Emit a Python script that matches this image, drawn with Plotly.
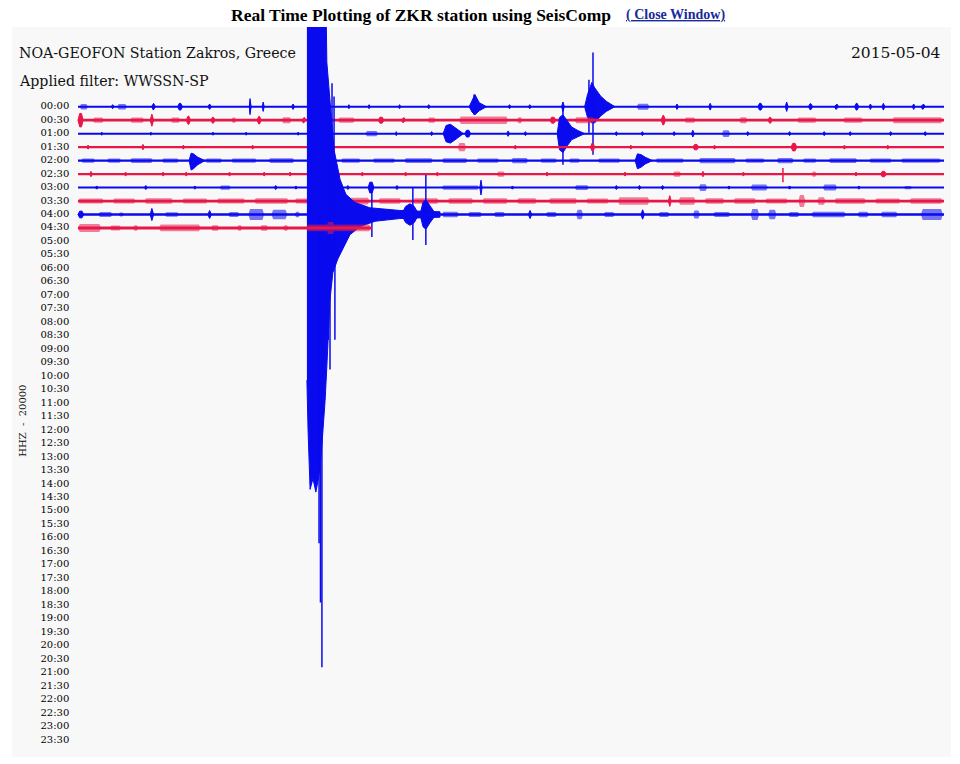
import plotly.graph_objects as go

# ---------------- labels ----------------
TIME_LABELS = ["00:00", "00:30", "01:00", "01:30", "02:00", "02:30", "03:00", "03:30",
               "04:00", "04:30", "05:00", "05:30", "06:00", "06:30", "07:00", "07:30",
               "08:00", "08:30", "09:00", "09:30", "10:00", "10:30", "11:00", "11:30",
               "12:00", "12:30", "13:00", "13:30", "14:00", "14:30", "15:00", "15:30",
               "16:00", "16:30", "17:00", "17:30", "18:00", "18:30", "19:00", "19:30",
               "20:00", "20:30", "21:00", "21:30", "22:00", "22:30", "23:00", "23:30"]

BLUE = "#0a0aee"
RED = "#e8174a"
BLUE_SOFT = "rgba(10,10,238,0.55)"
RED_SOFT = "rgba(232,23,74,0.55)"

# rows with data (index into TIME_LABELS), end minute of each trace, colour, line width
ROW_IDX = [0, 1, 2, 3, 4, 5, 6, 7, 8, 9]
ROW_END = [30, 30, 30, 30, 30, 30, 30, 30, 30, 10.18]
ROW_COLOR = [BLUE, RED, BLUE, RED, BLUE, RED, BLUE, RED, BLUE, RED]
ROW_SOFT = [BLUE_SOFT, RED_SOFT] * 5
ROW_WIDTH = [2.0, 2.8, 2.0, 2.2, 2.4, 2.3, 2.0, 2.8, 2.4, 2.8]

# noise bursts per row: (start minute, end minute, amplitude in row spacings)
bursts_0000 = [(0.05, 0.35, 0.2), (1.15, 1.25, 0.15), (1.35, 1.7, 0.2), (2.55, 2.68, 0.25),
               (3.45, 3.62, 0.25), (4.5, 4.62, 0.2), (5.93, 6.0, 0.45), (6.38, 6.45, 0.35),
               (7.4, 7.5, 0.2), (9.35, 9.42, 0.15), (10.05, 10.12, 0.15), (11.1, 11.18, 0.15),
               (12.1, 12.2, 0.15), (14.9, 15.0, 0.15), (15.6, 15.7, 0.15), (16.75, 16.85, 0.35),
               (19.35, 19.8, 0.22), (20.7, 20.8, 0.2), (21.85, 21.95, 0.25), (23.55, 23.72, 0.25),
               (24.5, 24.6, 0.35), (25.3, 25.45, 0.22), (26.2, 26.35, 0.2), (26.9, 27.05, 0.25),
               (27.4, 27.5, 0.2), (27.85, 27.95, 0.25), (28.9, 29.0, 0.2), (29.2, 29.35, 0.2)]
bursts_0030 = [(0.0, 0.18, 0.5), (0.5, 0.9, 0.2), (1.8, 2.3, 0.2), (2.5, 2.62, 0.45),
               (3.2, 3.55, 0.2), (3.75, 3.9, 0.3), (4.6, 4.75, 0.22), (5.3, 5.5, 0.2),
               (6.2, 6.35, 0.28), (7.05, 7.4, 0.22), (7.75, 7.9, 0.22), (9.0, 9.6, 0.2),
               (10.4, 10.6, 0.22), (11.2, 11.35, 0.2), (12.1, 12.4, 0.2), (13.2, 14.9, 0.28),
               (15.2, 15.4, 0.22), (16.35, 16.55, 0.22), (17.2, 17.9, 0.22), (20.2, 20.35, 0.35),
               (21.0, 21.4, 0.2), (22.9, 23.2, 0.22), (23.9, 24.05, 0.22), (24.9, 25.6, 0.2),
               (26.5, 27.2, 0.2), (28.2, 29.96, 0.22)]
bursts_0100 = [(0.8, 0.85, 0.12), (2.5, 2.55, 0.12), (4.65, 4.7, 0.12), (5.8, 5.85, 0.12),
               (7.6, 7.65, 0.12), (9.95, 10.4, 0.2), (11.0, 11.05, 0.15), (12.2, 12.3, 0.15),
               (13.4, 13.6, 0.25), (14.85, 14.95, 0.2), (15.45, 15.55, 0.15), (18.6, 18.7, 0.15),
               (19.5, 19.6, 0.15), (20.6, 20.7, 0.15), (21.25, 21.35, 0.25), (22.3, 22.6, 0.25),
               (23.15, 23.25, 0.15), (24.6, 24.7, 0.15), (25.8, 25.9, 0.15), (26.7, 26.8, 0.15),
               (28.1, 28.2, 0.15), (29.3, 29.4, 0.15)]
bursts_0130 = [(0.3, 0.4, 0.15), (2.2, 2.3, 0.2), (3.6, 3.7, 0.15), (6.0, 6.1, 0.15),
               (8.1, 8.2, 0.15), (13.15, 13.45, 0.3), (15.1, 15.2, 0.15), (17.75, 17.9, 0.3),
               (19.1, 19.2, 0.15), (21.3, 21.5, 0.2), (22.0, 22.1, 0.15), (24.7, 24.9, 0.28),
               (26.5, 26.6, 0.15), (28.0, 28.1, 0.15)]
bursts_0200 = [(0.1, 0.6, 0.16), (1.0, 1.5, 0.16), (1.8, 2.6, 0.18), (2.9, 3.5, 0.16),
               (4.4, 5.0, 0.16), (5.3, 6.2, 0.16), (6.6, 7.5, 0.18), (9.1, 9.8, 0.16),
               (10.2, 11.0, 0.16), (11.3, 12.3, 0.18), (12.6, 13.5, 0.18), (13.8, 14.6, 0.16),
               (15.0, 15.6, 0.2), (16.0, 16.6, 0.16), (17.0, 17.4, 0.16), (18.0, 18.8, 0.16),
               (20.0, 21.0, 0.16), (21.5, 22.8, 0.2), (23.1, 23.8, 0.16), (24.2, 24.8, 0.2),
               (25.1, 25.6, 0.16), (26.0, 27.0, 0.18), (27.4, 28.2, 0.16), (28.5, 29.9, 0.16)]
bursts_0230 = [(0.4, 0.5, 0.2), (1.6, 1.7, 0.15), (2.9, 3.0, 0.15), (3.7, 3.8, 0.15),
               (5.2, 5.3, 0.15), (6.4, 6.5, 0.15), (7.3, 7.4, 0.15), (9.8, 9.9, 0.15),
               (11.3, 11.4, 0.15), (12.4, 12.5, 0.15), (14.5, 14.8, 0.2), (16.2, 16.3, 0.15),
               (18.9, 19.0, 0.15), (20.6, 20.9, 0.2), (21.6, 21.7, 0.2), (23.0, 23.1, 0.15),
               (25.4, 25.6, 0.2), (26.9, 27.0, 0.15), (27.8, 28.0, 0.2)]
bursts_0300 = [(0.6, 0.7, 0.12), (2.3, 2.4, 0.15), (4.0, 4.1, 0.12), (4.9, 5.3, 0.16),
               (6.8, 6.9, 0.15), (7.5, 7.6, 0.12), (9.3, 9.4, 0.15), (10.05, 10.25, 0.4),
               (11.0, 11.1, 0.15), (12.6, 13.9, 0.16), (13.92, 14.0, 0.55), (15.0, 15.1, 0.12),
               (17.2, 17.7, 0.18), (18.6, 18.7, 0.15), (19.4, 19.5, 0.15), (20.2, 20.3, 0.15),
               (21.5, 21.8, 0.25), (22.5, 22.6, 0.12), (23.3, 23.9, 0.22), (24.6, 24.7, 0.12),
               (25.8, 26.3, 0.22), (27.0, 27.1, 0.12), (28.6, 28.9, 0.12)]
bursts_0330 = [(0.0, 0.9, 0.18), (1.2, 2.0, 0.18), (2.3, 3.3, 0.2), (3.6, 4.5, 0.18),
               (4.8, 5.8, 0.18), (6.1, 7.3, 0.2), (7.5, 8.0, 0.18), (9.4, 10.1, 0.25),
               (10.4, 11.2, 0.2), (11.6, 12.5, 0.2), (12.8, 13.7, 0.2), (14.0, 14.9, 0.2),
               (15.2, 15.9, 0.2), (16.3, 17.3, 0.2), (17.6, 18.4, 0.18), (18.7, 19.8, 0.28),
               (20.45, 20.55, 0.4), (20.8, 21.4, 0.28), (21.7, 22.4, 0.2), (22.7, 23.5, 0.2),
               (23.8, 24.6, 0.18), (24.95, 25.2, 0.45), (25.6, 25.9, 0.28), (26.2, 27.3, 0.2),
               (27.6, 28.5, 0.18), (28.8, 29.96, 0.2)]
bursts_0400 = [(0.0, 0.2, 0.25), (0.7, 1.2, 0.18), (1.4, 1.6, 0.15), (2.5, 2.62, 0.45),
               (3.0, 3.5, 0.16), (4.5, 4.62, 0.3), (5.2, 5.6, 0.18), (5.9, 6.45, 0.4),
               (6.7, 7.25, 0.35), (7.5, 7.7, 0.2), (12.6, 13.2, 0.2), (13.5, 14.0, 0.18),
               (14.4, 14.8, 0.18), (15.6, 15.72, 0.3), (16.2, 16.6, 0.18), (17.25, 17.5, 0.35),
               (18.2, 18.6, 0.18), (19.5, 19.62, 0.35), (20.1, 20.5, 0.18), (21.3, 21.55, 0.3),
               (22.0, 22.6, 0.18), (23.3, 23.6, 0.4), (23.9, 24.2, 0.35), (24.6, 25.0, 0.18),
               (25.4, 26.6, 0.2), (27.0, 27.4, 0.2), (27.8, 28.4, 0.2), (29.2, 29.96, 0.4)]
bursts_0430 = [(0.0, 0.8, 0.3), (1.1, 1.5, 0.18), (1.9, 2.1, 0.2), (2.8, 4.25, 0.25),
               (4.6, 4.9, 0.2), (5.5, 5.7, 0.2), (6.3, 6.6, 0.2), (7.1, 7.3, 0.2),
               (7.9, 10.15, 0.25), (8.6, 8.9, 0.45)]
ROW_BURSTS = [bursts_0000, bursts_0030, bursts_0100, bursts_0130, bursts_0200,
              bursts_0230, bursts_0300, bursts_0330, bursts_0400, bursts_0430]

# local events: envelope minutes, upward and downward amplitude (row spacings)
ev_0000a_t = [13.55, 13.65, 13.75, 13.9, 14.15]
ev_0000a_up = [0, 0.5, 0.9, 0.3, 0]
ev_0000a_dn = [0, 0.4, 0.6, 0.3, 0]
ev_0000b_t = [17.55, 17.65, 17.8, 17.9, 18.1, 18.3, 18.6]
ev_0000b_up = [0, 0.9, 1.8, 1.4, 0.8, 0.4, 0]
ev_0000b_dn = [0, 0.8, 1.2, 1.2, 0.7, 0.35, 0]
ev_0100a_t = [12.65, 12.75, 12.9, 13.1, 13.35]
ev_0100a_up = [0, 0.6, 0.7, 0.4, 0]
ev_0100a_dn = [0, 0.6, 0.7, 0.4, 0]
ev_0100b_t = [16.6, 16.68, 16.8, 16.95, 17.1, 17.3, 17.55]
ev_0100b_up = [0, 1.2, 1.4, 0.9, 0.5, 0.25, 0]
ev_0100b_dn = [0, 1.2, 1.4, 0.9, 0.45, 0.25, 0]
ev_0200a_t = [3.85, 3.92, 4.0, 4.15, 4.4]
ev_0200a_up = [0, 0.55, 0.5, 0.25, 0]
ev_0200a_dn = [0, 0.7, 0.6, 0.3, 0]
ev_0200b_t = [19.3, 19.38, 19.5, 19.65, 19.9]
ev_0200b_up = [0, 0.5, 0.45, 0.25, 0]
ev_0200b_dn = [0, 0.6, 0.5, 0.25, 0]
ev_0400a_t = [11.2, 11.35, 11.5, 11.65, 11.8]
ev_0400a_up = [0, 0.6, 0.8, 0.6, 0]
ev_0400a_dn = [0, 0.6, 0.8, 0.6, 0]
ev_0400b_t = [11.85, 11.95, 12.05, 12.2, 12.4]
ev_0400b_up = [0, 0.9, 1.1, 0.6, 0]
ev_0400b_dn = [0, 0.9, 1.1, 0.6, 0]
EVENTS = [(0, ev_0000a_t, ev_0000a_up, ev_0000a_dn), (0, ev_0000b_t, ev_0000b_up, ev_0000b_dn),
          (2, ev_0100a_t, ev_0100a_up, ev_0100a_dn), (2, ev_0100b_t, ev_0100b_up, ev_0100b_dn),
          (4, ev_0200a_t, ev_0200a_up, ev_0200a_dn), (4, ev_0200b_t, ev_0200b_up, ev_0200b_dn),
          (8, ev_0400a_t, ev_0400a_up, ev_0400a_dn), (8, ev_0400b_t, ev_0400b_up, ev_0400b_dn)]

# single spikes: (row, minute, up, down)
SPIKES = [(0, 17.7, 2.0, 1.93), (0, 17.84, 4.03, 3.56), (2, 16.8, 2.15, 2.3),
          (5, 24.42, 0.45, 0.6), (8, 10.18, 2.26, 1.67), (8, 11.6, 1.97, 1.9),
          (8, 12.05, 2.93, 2.27), (0, 5.96, 0.6, 0.6), (0, 13.72, 0.9, 0.6)]

# main shock on the 04:00 line: envelope (minutes, amplitude in row spacings)
quake_up_t = [7.93, 8.59, 8.62, 8.73, 8.87, 9.08, 9.28, 9.59, 10.11, 11.15, 12.54]
quake_up_a = [16, 16, 11.3, 8.5, 4.8, 2.6, 1.5, 0.9, 0.5, 0.3, 0.2]
quake_dn_t = [7.93, 7.97, 8.04, 8.14, 8.24, 8.31, 8.38, 8.45, 8.56, 8.62, 8.73, 8.83, 9.0,
              9.18, 9.42, 9.77, 10.29, 11.15, 12.54]
quake_dn_a = [12.3, 16.0, 20.4, 19.6, 20.6, 19.8, 18.9, 17.1, 13.8, 11.3, 6.3, 4.3, 3.3,
              2.5, 1.5, 0.9, 0.5, 0.3, 0.2]
quake_spk_t = [8.35, 8.40, 8.45, 8.67, 8.73, 8.90, 8.80, 8.87]
quake_spk_up = [0, 0, 0, 0, 0, 0, 9.74, 8.75]
quake_spk_dn = [24.4, 28.8, 33.6, 9.3, 11.5, 9.3, 0, 0]
QUAKE_ROW = 8

fig = go.Figure()


def burst_shape(t0, t1, a, r):
    """Outline of a burst: pointed when short, flat-topped band when long."""
    taper = min(0.06, (t1 - t0) / 2)
    if taper >= (t1 - t0) / 2:
        tm = (t0 + t1) / 2
        return [t0, tm, t1, tm, t0, None], [r, r - a, r, r + a, r, None]
    return ([t0, t0 + taper, t1 - taper, t1, t1 - taper, t0 + taper, t0, None],
            [r, r - a, r - a, r, r + a, r + a, r, None])


for k, r in enumerate(ROW_IDX):
    col = ROW_COLOR[k]
    soft = ROW_SOFT[k]
    # baseline
    fig.add_trace(go.Scatter(x=[0, ROW_END[k]], y=[r, r], mode="lines",
                             line=dict(color=col, width=ROW_WIDTH[k]), hoverinfo="skip"))
    # noise: long bands drawn soft, short bursts drawn solid
    bx, by, tx, ty = [], [], [], []
    for t0, t1, a in ROW_BURSTS[k]:
        sx_, sy_ = burst_shape(t0, t1, a, r)
        if t1 - t0 > 0.2:
            bx += sx_
            by += sy_
        else:
            tx += sx_
            ty += sy_
    if bx:
        fig.add_trace(go.Scatter(x=bx, y=by, mode="lines", fill="toself", fillcolor=soft,
                                 line=dict(color=soft, width=0), hoverinfo="skip"))
    if tx:
        fig.add_trace(go.Scatter(x=tx, y=ty, mode="lines", fill="toself", fillcolor=col,
                                 line=dict(color=col, width=1), hoverinfo="skip"))
    # events
    for er, et, eu, ed in EVENTS:
        if er != r:
            continue
        ex = list(et) + list(et[::-1])
        ey = [r - u for u in eu] + [r + d for d in ed[::-1]]
        fig.add_trace(go.Scatter(x=ex, y=ey, mode="lines", fill="toself", fillcolor=col,
                                 line=dict(color=col, width=1), hoverinfo="skip"))
    # main shock
    if r == QUAKE_ROW:
        qx = list(quake_up_t) + list(quake_dn_t[::-1])
        qy = [r - a for a in quake_up_a] + [r + a for a in quake_dn_a[::-1]]
        fig.add_trace(go.Scatter(x=qx, y=qy, mode="lines", fill="toself", fillcolor=col,
                                 line=dict(color=col, width=1), hoverinfo="skip"))
        sx, sy = [], []
        for t, u, d in zip(quake_spk_t, quake_spk_up, quake_spk_dn):
            sx += [t, t, None]
            sy += [r - u, r + d, None]
        fig.add_trace(go.Scatter(x=sx, y=sy, mode="lines", line=dict(color=col, width=1.5),
                                 hoverinfo="skip"))
    # spikes
    sx, sy = [], []
    for sr, t, u, d in SPIKES:
        if sr == r:
            sx += [t, t, None]
            sy += [r - u, r + d, None]
    if sx:
        fig.add_trace(go.Scatter(x=sx, y=sy, mode="lines", line=dict(color=col, width=1.5),
                                 hoverinfo="skip"))

# hour labels
fig.add_trace(go.Scatter(x=[-0.3] * len(TIME_LABELS), y=list(range(len(TIME_LABELS))),
                         mode="text", text=TIME_LABELS, textposition="middle left",
                         textfont=dict(family="DejaVu Serif", size=10, color="#000000"),
                         hoverinfo="skip"))

SERIF = "DejaVu Serif"
annotations = [
    dict(x=-2.1, y=-3.98, xref="x", yref="y", xanchor="left", yanchor="middle",
         text="NOA-GEOFON Station Zakros, Greece", showarrow=False,
         font=dict(family=SERIF, size=14.2, color="#111111")),
    dict(x=-2.1, y=-1.9, xref="x", yref="y", xanchor="left", yanchor="middle",
         text="Applied filter: WWSSN-SP", showarrow=False,
         font=dict(family=SERIF, size=14.2, color="#111111")),
    dict(x=29.97, y=-3.98, xref="x", yref="y", xanchor="right", yanchor="middle",
         text="2015-05-04", showarrow=False,
         font=dict(family=SERIF, size=15.5, color="#111111")),
    dict(x=-1.9, y=23.3, xref="x", yref="y", xanchor="center", yanchor="middle",
         text="HHZ  -  20000", showarrow=False, textangle=-90,
         font=dict(family=SERIF, size=10, color="#111111")),
    dict(x=0.640, y=1.0165, xref="paper", yref="paper", xanchor="right", yanchor="middle",
         text="<b>Real Time Plotting of ZKR station using SeisComp</b>", showarrow=False,
         font=dict(family="Liberation Serif", size=17.5, color="#000000")),
    dict(x=0.652, y=1.0165, xref="paper", yref="paper", xanchor="left", yanchor="middle",
         text="<b><span style='text-decoration:underline'>( Close Window)</span></b>",
         showarrow=False,
         font=dict(family="Liberation Serif", size=14, color="#1a2a9c")),
]

fig.update_layout(
    width=960, height=764,
    margin=dict(l=12, r=9, t=27, b=7),
    paper_bgcolor="#ffffff",
    plot_bgcolor="#f8f8f8",
    showlegend=False,
    annotations=annotations,
    xaxis=dict(range=[-2.286, 30.242], visible=False, fixedrange=True),
    yaxis=dict(range=[48.26, -5.915], visible=False, fixedrange=True),
)

fig.write_html("out.html", config={"displayModeBar": False},
               post_script="document.body.style.margin='0';")
